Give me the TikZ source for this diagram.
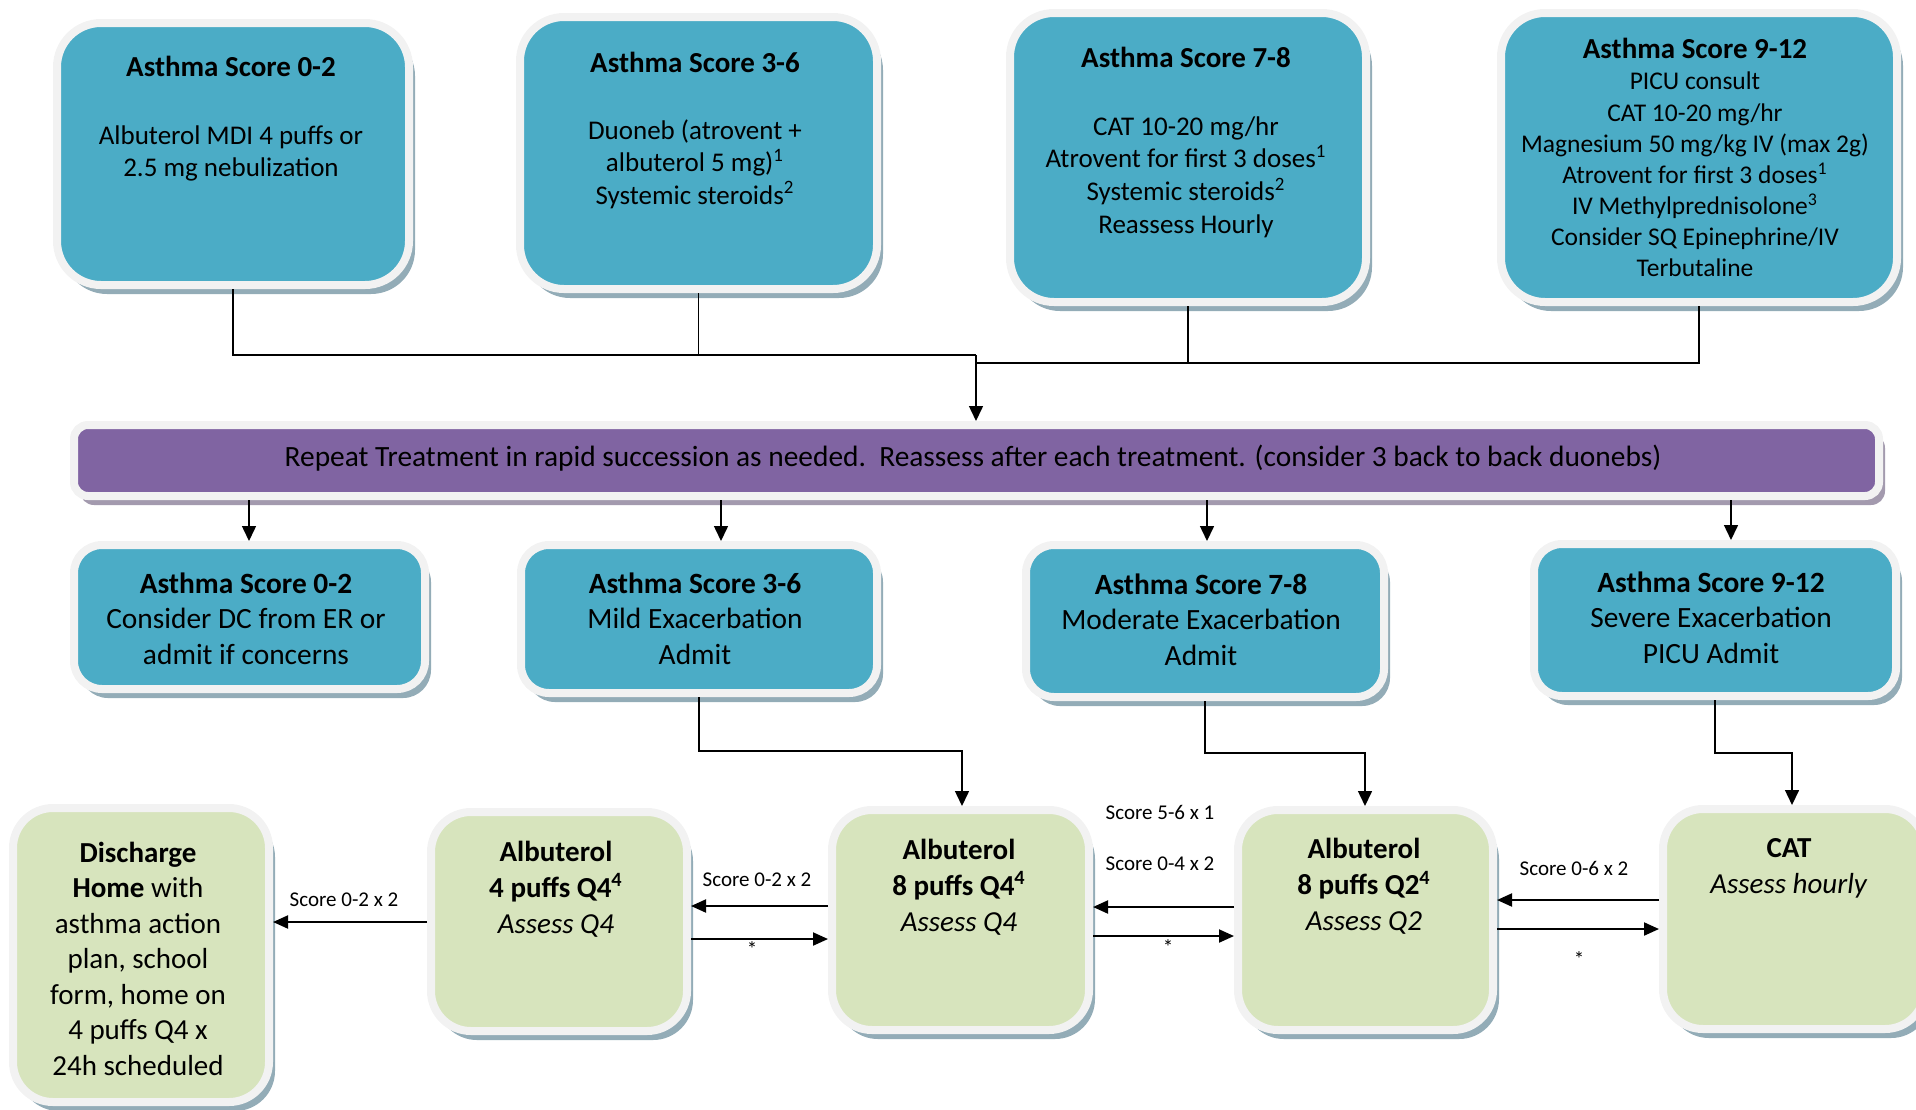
\documentclass[tikz,border=0pt]{standalone}
\usepackage{fontspec}
\setmainfont{Carlito}
\usetikzlibrary{shadows,fit,arrows.meta}
\definecolor{boxblue}{HTML}{4BACC6}
\definecolor{barpurple}{HTML}{8064A2}
\definecolor{boxgreen}{HTML}{D7E4BD}
\definecolor{rimc}{HTML}{F2F2F2}
\definecolor{shadc}{HTML}{93ACB7}
\definecolor{shadp}{HTML}{A39AAE}
\tikzset{
  panel/.style={draw=rimc, line width=4pt, inner sep=0pt,
    drop shadow={shadow xshift=3pt, shadow yshift=-4.5pt, fill=shadc, opacity=1}},
  bluepanel/.style={panel, fill=boxblue, rounded corners=#1},
  greenpanel/.style={panel, fill=boxgreen, rounded corners=20pt},
  barpanel/.style={draw=rimc, line width=4pt, inner sep=0pt, fill=barpurple, rounded corners=7pt,
    drop shadow={shadow xshift=3pt, shadow yshift=-4.5pt, fill=shadp, opacity=1}},
  toptitle/.style={font=\fontsize{14.5}{16.3}\selectfont\bfseries, align=center, inner sep=0pt},
  toptxt/.style={font=\fontsize{13.5}{16.3}\selectfont, align=center, inner sep=0pt},
  midtxt/.style={font=\fontsize{14.7}{17.75}\selectfont, align=center, inner sep=0pt},
  bottxt/.style={font=\fontsize{14.5}{17.9}\selectfont, align=center, inner sep=0pt},
  lbl/.style={font=\fontsize{10.5}{12}\selectfont, inner sep=0pt},
  conn/.style={draw=black, line width=0.75pt},
  arr/.style={conn, -{Triangle[length=7.5pt,width=7pt]}},
  harr/.style={draw=black, line width=1pt, -{Triangle[length=7.5pt,width=6.5pt]}},
}
\begin{document}
\begin{tikzpicture}[x=0.5pt,y=-0.5pt]
\useasboundingbox (0,0) rectangle (1916,1109);
\begin{scope}
\clip (0,0) rectangle (1916,1109);
% top row
\node[bluepanel=22pt, fit={(57,23) (409,285)}] (t1) {};
\node[bluepanel=22pt, fit={(520,17) (877,289)}] (t2) {};
\node[bluepanel=22pt, fit={(1010,13) (1366,302)}] (t3) {};
\node[bluepanel=22pt, fit={(1501,13) (1897,302)}] (t4) {};
% bar
\node[barpanel, fit={(74,425) (1879,496)}] (bar) {};
% middle row
\node[bluepanel=14pt, fit={(74,545) (425,689)}] (r1) {};
\node[bluepanel=14pt, fit={(521,545) (877,693)}] (r2) {};
\node[bluepanel=14pt, fit={(1026,545) (1384,697)}] (r3) {};
\node[bluepanel=14pt, fit={(1534,544) (1896,696)}] (r4) {};
% bottom row
\node[greenpanel, fit={(13,808) (269,1102)}] (d) {};
\node[greenpanel, fit={(431,812) (687,1031)}] (a4) {};
\node[greenpanel, fit={(832,810) (1089,1030)}] (a8) {};
\node[greenpanel, fit={(1238,810) (1493,1030)}] (a2) {};
\node[greenpanel, fit={(1663,809) (1925,1029)}] (cat) {};
\end{scope}

% texts top
\node[toptitle] (t1h) at (231,66) {Asthma Score 0-2};
\node[toptxt] (t1b) at (231,153.5) {Albuterol MDI 4 puffs or\\2.5 mg nebulization};
\node[toptitle] (t2h) at (695,62) {Asthma Score 3-6};
\node[toptxt] (t2b) at (695,164) {Duoneb (atrovent +\\albuterol 5 mg)\textsuperscript{1}\\Systemic steroids\textsuperscript{2}};
\node[toptitle] (t3h) at (1186,57) {Asthma Score 7-8};
\node[toptxt] (t3b) at (1186,177) {CAT 10-20 mg/hr\\Atrovent for first 3 doses\textsuperscript{1}\\Systemic steroids\textsuperscript{2}\\Reassess Hourly};
\node[toptitle] (t4h) at (1695,48) {Asthma Score 9-12};
\node[toptxt, font=\fontsize{12.75}{15.55}\selectfont] (t4b) at (1695,174.5) {PICU consult\\CAT 10-20 mg/hr\\Magnesium 50 mg/kg IV (max 2g)\\Atrovent for first 3 doses\textsuperscript{1}\\IV Methylprednisolone\textsuperscript{3}\\Consider SQ Epinephrine/IV\\Terbutaline};

\node[midtxt] (bart) at (973,458) {Repeat Treatment in rapid succession as needed.\ \ Reassess after each treatment. (consider 3 back to back duonebs)};

% middle texts
\node[midtxt] (r1t) at (246,618.5) {\textbf{Asthma Score 0-2}\\Consider DC from ER or\\admit if concerns};
\node[midtxt] (r2t) at (695,618.5) {\textbf{Asthma Score 3-6}\\Mild Exacerbation\\Admit};
\node[midtxt] (r3t) at (1201,619.5) {\textbf{Asthma Score 7-8}\\Moderate Exacerbation\\Admit};
\node[midtxt] (r4t) at (1711,617.5) {\textbf{Asthma Score 9-12}\\Severe Exacerbation\\PICU Admit};

% bottom texts
\node[bottxt, font=\fontsize{14.5}{17.75}\selectfont] (dt) at (138,958.5) {\textbf{Discharge}\\\textbf{Home} with\\asthma action\\plan, school\\form, home on\\4 puffs Q4 x\\24h scheduled};
\node[bottxt] (a4t) at (556,889) {\textbf{Albuterol}\\\textbf{4 puffs Q4\textsuperscript{4}}\\\textit{Assess Q4}};
\node[bottxt] (a8t) at (959,887) {\textbf{Albuterol}\\\textbf{8 puffs Q4\textsuperscript{4}}\\\textit{Assess Q4}};
\node[bottxt] (a2t) at (1364,886.5) {\textbf{Albuterol}\\\textbf{8 puffs Q2\textsuperscript{4}}\\\textit{Assess Q2}};
\node[bottxt] (catt) at (1789,868.5) {\textbf{CAT}\\\textit{Assess hourly}};

% top connectors
\coordinate (m1) at (976,355);
\coordinate (m2) at (976,363);
\draw[conn] (t1.south) |- (m1);
\draw[conn] (t2.south) |- (m1);
\draw[conn] (t3.south) |- (m2);
\draw[conn] (t4.south) |- (t3.south |- m2);
\draw[arr] (m1) -- (m1 |- bar.north);

% bar to middle row
\draw[arr] (bar.south -| 249,0) -- (r1.north -| 249,0);
\draw[arr] (bar.south -| 721,0) -- (r2.north -| 721,0);
\draw[arr] (bar.south -| 1207,0) -- (r3.north -| 1207,0);
\draw[arr] (bar.south -| 1731,0) -- (r4.north -| 1731,0);

% middle to bottom
\coordinate (k1) at (962,751);
\coordinate (k2) at (1365,753);
\coordinate (k3) at (1792,753);
\draw[arr] (r2.south) |- (k1) -- (k1 |- a8.north);
\draw[arr] (r3.south) |- (k2) -- (k2 |- a2.north);
\draw[arr] (r4.south) |- (k3) -- (k3 |- cat.north);

% bottom horizontal arrows
\draw[harr] (a4.west |- 0,922) -- (d.east |- 0,922);
\draw[harr] (a8.west |- 0,906) -- (a4.east |- 0,906);
\draw[harr] (a4.east |- 0,939) -- (a8.west |- 0,939);
\draw[harr] (a2.west |- 0,907) -- (a8.east |- 0,907);
\draw[harr] (a8.east |- 0,936) -- (a2.west |- 0,936);
\draw[harr] (cat.west |- 0,900) -- (a2.east |- 0,900);
\draw[harr] (a2.east |- 0,929) -- (cat.west |- 0,929);

% labels
\node[lbl] (l1) at (344,900) {Score 0-2 x 2};
\node[lbl] (l2) at (757,880) {Score 0-2 x 2};
\node[lbl] (l3) at (752,949) {*};
\node[lbl] (l4) at (1160,812) {Score 5-6 x 1};
\node[lbl] (l5) at (1160,864) {Score 0-4 x 2};
\node[lbl] (l6) at (1168,947) {*};
\node[lbl] (l7) at (1574,868) {Score 0-6 x 2};
\node[lbl] (l8) at (1579,959) {*};
\end{tikzpicture}
\end{document}
